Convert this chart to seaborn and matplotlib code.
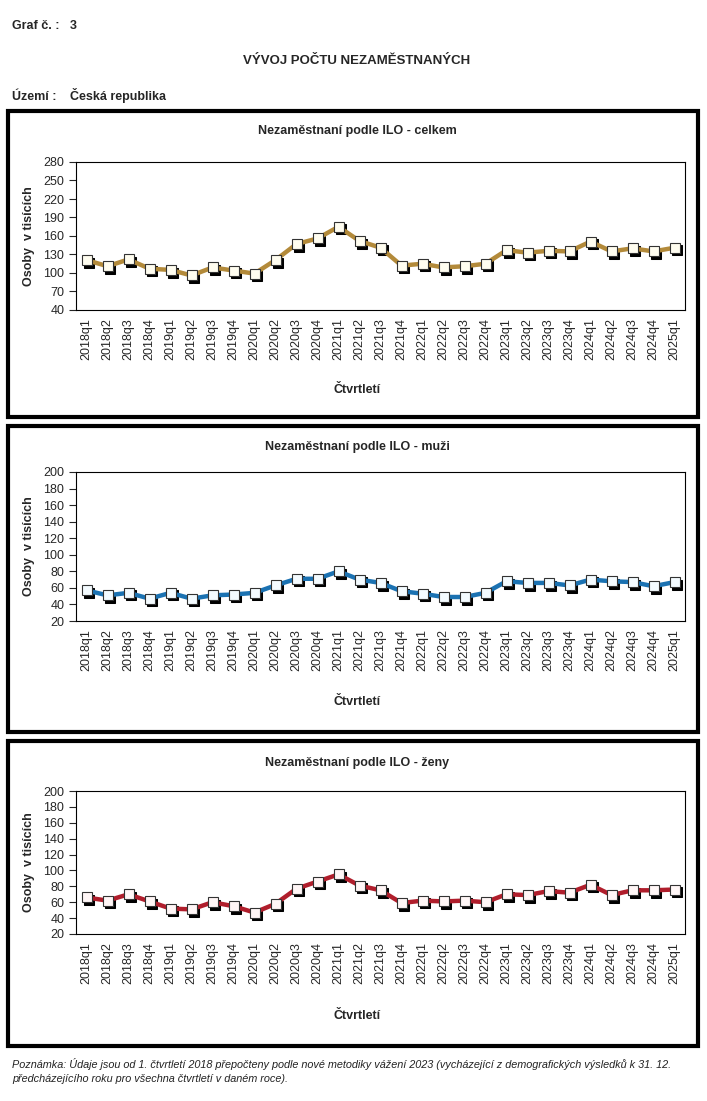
import numpy as np
import pandas as pd
import matplotlib
matplotlib.use('Agg')
import matplotlib.pyplot as plt
import matplotlib.transforms as mtransforms
from matplotlib.patches import Rectangle
import seaborn as sns

# Data (thousands of persons)
quarters = [f'{y}q{q}' for y in range(2018, 2025) for q in range(1, 5)] + ['2025q1']
celkem = [121, 111, 122, 107, 105, 96, 109, 104, 99, 121, 147, 156, 175,
          152, 141, 112, 115, 109, 111, 115, 137, 133, 136, 135, 151, 135, 140, 135, 141]
muzi = [57, 51, 54, 47, 54, 47, 51, 52, 54, 63, 71, 71, 80,
        70, 66, 56, 53, 49, 49, 54, 68, 66, 66, 63, 70, 68, 67, 62, 67]
zeny = [66, 62, 70, 61, 52, 51, 60, 55, 47, 58, 77, 86, 95,
        81, 75, 59, 62, 61, 62, 60, 70, 69, 74, 72, 82, 69, 75, 75, 76]

titles = ['Nezaměstnaní podle ILO - celkem', 'Nezaměstnaní podle ILO - muži',
          'Nezaměstnaní podle ILO - ženy']
series = [celkem, muzi, zeny]
colors = ['#B38A3A', '#1B72B2', '#B01E2C']
faces = ['#FFFDF0', '#F4FBFF', '#FFF6F6']
yticks = [np.arange(40, 281, 30), np.arange(20, 201, 20), np.arange(20, 201, 20)]

sns.set_style('white')
plt.rcParams['font.family'] = ['Liberation Sans', 'DejaVu Sans']

W, H = 707, 1101
fig = plt.figure(figsize=(W / 100, H / 100), dpi=100)

def fx(px):
    return px / W

def fy(py):
    return 1 - py / H

# panels: (box top, box bottom, axes top, axes bottom, title y, xlabel y)
panels = [(111, 417, 162, 310, 131, 390),
          (426, 732, 472, 621, 447, 702),
          (741, 1046, 791, 934, 763, 1016)]

for i, (bt, bb, at, ab, ty, xy) in enumerate(panels):
    fig.patches.append(Rectangle((fx(8), fy(bb)), fx(690), (bb - bt) / H,
                                 transform=fig.transFigure, fill=False,
                                 edgecolor='black', linewidth=3, zorder=0))
    ax = fig.add_axes([fx(76), fy(ab), fx(685 - 76), (ab - at) / H])
    df = pd.DataFrame({'ctvrtleti': quarters, 'osoby': series[i]})

    # drop shadow under the markers
    shadow = ax.transData + mtransforms.ScaledTranslation(2.2 / 100, -2.6 / 100, fig.dpi_scale_trans)
    sns.lineplot(data=df, x='ctvrtleti', y='osoby', ax=ax, linewidth=0, marker='s',
                 markersize=7, color='black', markeredgecolor='black', transform=shadow)
    sns.lineplot(data=df, x='ctvrtleti', y='osoby', ax=ax, linewidth=3.2, color=colors[i],
                 marker='s', markersize=7, markerfacecolor=faces[i],
                 markeredgecolor='#333333', markeredgewidth=0.8)

    ax.set_xlim(-0.5, len(quarters) - 0.5)
    ax.set_ylim(yticks[i][0], yticks[i][-1])
    ax.set_yticks(yticks[i])
    ax.set_xticks(np.arange(len(quarters)))
    ax.set_xticklabels(quarters, rotation=90, fontsize=9)
    ax.set_xticks(np.arange(len(quarters) + 1) - 0.5, minor=True)
    ax.tick_params(axis='x', which='major', length=0, pad=6)
    ax.tick_params(axis='x', which='minor', length=6, direction='inout', width=0.8)
    ax.tick_params(axis='y', labelsize=9, length=5, direction='out', width=0.8, left=True)
    for s in ax.spines.values():
        s.set_linewidth(0.8)
        s.set_color('black')
    ax.set_xlabel('')
    ax.set_ylabel('Osoby  v tisících', fontsize=9, fontweight='bold', labelpad=6)
    fig.text(fx(357), fy(ty), titles[i], ha='center', va='center', fontsize=9, fontweight='bold')
    fig.text(fx(357), fy(xy), 'Čtvrtletí', ha='center', va='center', fontsize=9, fontweight='bold')

hdr = dict(fontsize=9, fontweight='bold', va='baseline',
           family=['Liberation Sans Narrow', 'Liberation Sans', 'DejaVu Sans'])
fig.text(fx(12), fy(29), 'Graf č. :', **hdr)
fig.text(fx(70), fy(29), '3', **hdr)
fig.text(fx(357), fy(64), 'VÝVOJ POČTU NEZAMĚSTNANÝCH', ha='center', **dict(hdr, fontsize=9.5))
fig.text(fx(12), fy(100), 'Území :', **hdr)
fig.text(fx(70), fy(100), 'Česká republika', **hdr)

note = ('Poznámka: Údaje jsou od 1. čtvrtletí 2018 přepočteny podle nové metodiky vážení 2023 '
        '(vycházející z demografických výsledků k 31. 12.\n'
        'předcházejícího roku pro všechna čtvrtletí v daném roce).')
fig.text(fx(12), fy(1058), note, fontsize=7.8, style='italic', va='top', linespacing=1.5,
         color='#222222')

fig.savefig('out.png', dpi=100)
